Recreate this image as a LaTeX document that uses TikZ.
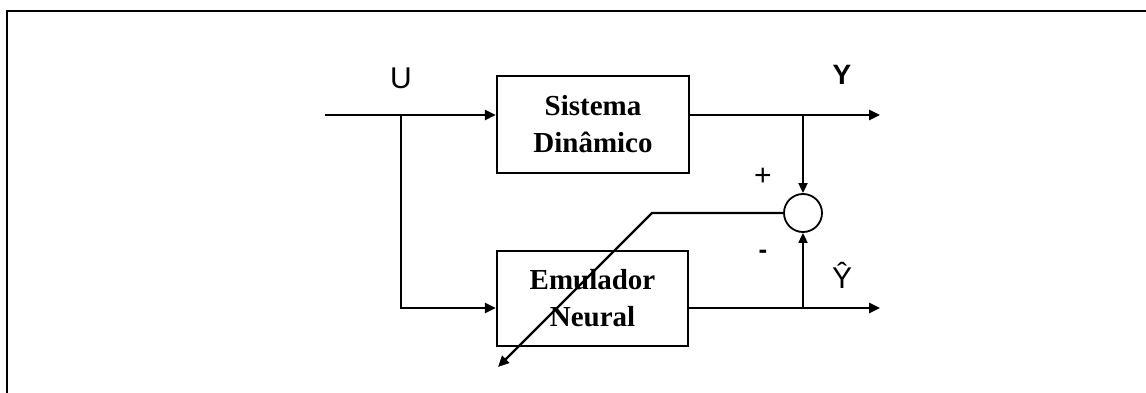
\documentclass[tikz,border=0pt]{standalone}
\usepackage{fontspec}
\setmainfont{Liberation Serif}
\setsansfont{Liberation Sans}
\usetikzlibrary{arrows.meta,calc}
\begin{document}
\begin{tikzpicture}[x=1pt,y=-1pt,
  line width=2.4pt,
  blockbox/.style={draw,rectangle,inner sep=0pt,align=center,
    font=\fontsize{29}{37}\selectfont\bfseries},
  sumnode/.style={draw,circle,line width=1.8pt,minimum size=38pt,inner sep=0pt},
  sig/.style={-{Triangle[length=11pt,width=10pt]}},
  sumarr/.style={-{Triangle[length=10pt,width=9pt]}},
  lbl/.style={font=\sffamily\fontsize{30}{30}\selectfont,inner sep=0pt},
  blbl/.style={font=\sffamily\bfseries\fontsize{28}{28}\selectfont,inner sep=0pt},
  sgn/.style={font=\sffamily\fontsize{30}{30}\selectfont,inner sep=0pt}]
\useasboundingbox (0,0) rectangle (1146,393);
% frame
\draw[line width=2.4pt] (7,393) -- (7,11) -- (1146,11);
% blocks
\node[blockbox,minimum width=192pt,minimum height=97pt] (sys) at (593,124.5) {Sistema\\Din\^amico};
\node[blockbox,minimum width=191pt,minimum height=95pt] (emu) at (592.5,298.5) {Emulador\\Neural};
\node[sumnode] (sum) at (803,213) {};
% coordinates
\coordinate (in) at (325,115);
\coordinate (br) at (401,115);
\coordinate (low) at (401,308);
\coordinate (tapY) at (803,115);
\coordinate (tapYh) at (803,308);
\coordinate (outY) at (880,115);
\coordinate (outYh) at (880,308);
\coordinate (bend) at (652,213);
\coordinate (tip) at (498,367);
% connectors
\draw[sig] (in) -- (in -| sys.west);
\draw[sig] (br) -- (low) -- (low -| emu.west);
\draw[sig] (in -| sys.east) -- (outY);
\draw[sig] (low -| emu.east) -- (outYh);
\draw[sumarr,line width=1.8pt] (tapY) -- (sum.north);
\draw[sumarr,line width=1.8pt] (tapYh) -- (sum.south);
\draw[sig] (sum.west) -- (bend) -- (tip);
% labels
\node[lbl] (lU) at (401,78) {U};
\node[blbl] (lY) at (842,75) {Y};
\node[lbl] (lYh) at (842,275) {Ŷ};
\node[sgn] (lp) at (763,177) {+};
\node[sgn,font=\sffamily\bfseries\fontsize{26}{26}\selectfont] (lm) at (763,254) {-};
\end{tikzpicture}
\end{document}
